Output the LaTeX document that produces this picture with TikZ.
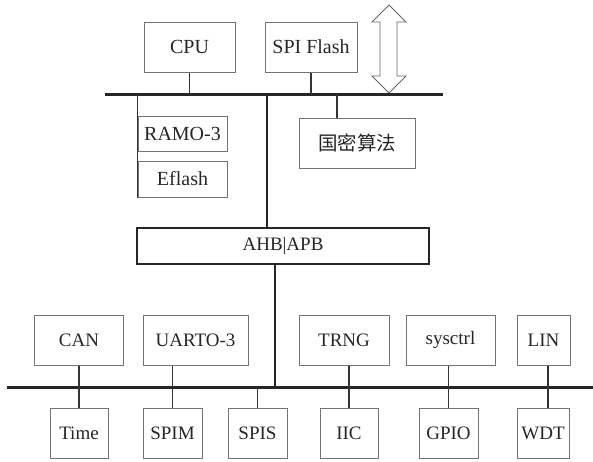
\documentclass[tikz,border=0pt]{standalone}
\usepackage{fontspec}
\setmainfont{Liberation Serif}
\newfontfamily\cjkfont{Noto Sans CJK SC}
\begin{document}
\begin{tikzpicture}[x=1pt,y=-1pt,
  blk/.style={draw=black!55, line width=1pt, minimum height=50pt, inner sep=0pt,
              font=\fontsize{19}{22}\selectfont, text=black!85},
  link/.style={draw=black!80, line width=1.1pt},
  bus/.style={draw=black!85, line width=3pt},
  thickbus/.style={draw=black!85, line width=2.6pt}]
\useasboundingbox (0,0) rectangle (593,461);

% top bus
\coordinate (busL) at (105,94);
\coordinate (busR) at (443,94);
% lower bus
\coordinate (lbusL) at (7,387);
\coordinate (lbusR) at (593,387);

% top-level blocks
\node[blk, minimum width=91pt, font=\fontsize{20}{24}\selectfont] (cpu) at (189.5,47) {CPU};
\node[blk, minimum width=92pt, font=\fontsize{20}{24}\selectfont] (spi) at (311,47) {SPI Flash};
\node[blk, minimum width=89pt, minimum height=35pt, font=\fontsize{20}{24}\selectfont] (ram) at (182.5,133.5) {RAMO-3};
\node[blk, minimum width=89pt, minimum height=36pt, font=\fontsize{20}{24}\selectfont] (efl) at (182.5,179) {Eflash};
\node[blk, minimum width=116pt, font=\fontsize{19.5}{23}\cjkfont] (gm) at (357,143) {国密算法};

% bridge
\node[draw=black!85, line width=2.6pt, minimum width=292pt, minimum height=36pt, inner sep=0pt,
      font=\fontsize{19}{22}\selectfont, text=black!85] (ahb) at (283,246) {AHB|APB};

% peripherals above the lower bus
\node[blk, minimum width=89pt] (can) at (79,340) {CAN};
\node[blk, minimum width=105pt] (uart) at (195.5,340) {UARTO-3};
\node[blk, minimum width=90pt] (trng) at (344,340) {TRNG};
\node[blk, minimum width=89pt] (sys) at (450.5,340) {sysctrl};
\node[blk, minimum width=53pt] (lin) at (543.5,340) {LIN};

% peripherals below the lower bus
\node[blk, minimum width=58pt] (time) at (79,433) {Time};
\node[blk, minimum width=59pt] (spim) at (172.5,433) {SPIM};
\node[blk, minimum width=59pt] (spis) at (257.5,433) {SPIS};
\node[blk, minimum width=58pt] (iic) at (349,433) {IIC};
\node[blk, minimum width=59pt] (gpio) at (448.5,433) {GPIO};
\node[blk, minimum width=52pt] (wdt) at (543,433) {WDT};

% external double arrow
\draw[draw=black!60, line width=0.9pt, fill=white]
  (389,5) -- (406,22) -- (397,22) -- (397,76) -- (406,76) -- (389,93)
  -- (372,76) -- (380,76) -- (380,22) -- (372,22) -- cycle;

% buses
\draw[bus] (busL) -- (busR);
\draw[bus] (lbusL) -- (lbusR);

% top bus links
\draw[link] (cpu.south) -- (cpu.south |- busL);
\draw[link] (spi.south) -- (spi.south |- busL);
\draw[link] ([xshift=-20pt]gm.north) -- ([xshift=-20pt]gm.north |- busL);
\draw[link] (ram.north west |- busL) -- (efl.south west);

% trunk through the bridge
\draw[thickbus] ([xshift=-16pt]ahb.north |- busL) -- ([xshift=-16pt]ahb.north);
\draw[thickbus] ([xshift=-8pt]ahb.south) -- ([xshift=-8pt]ahb.south |- lbusL);

% lower bus links
\draw[link] (can.south) -- (time.north);
\draw[link] (spim.north) -- (spim.north |- uart.south);
\draw[link] (spis.north) -- (spis.north |- lbusL);
\draw[link] (iic.north) -- (iic.north |- trng.south);
\draw[link] (gpio.north) -- (gpio.north |- sys.south);
\draw[link] ([xshift=5pt]wdt.north) -- ([xshift=5pt]wdt.north |- lin.south);
\end{tikzpicture}
\end{document}
